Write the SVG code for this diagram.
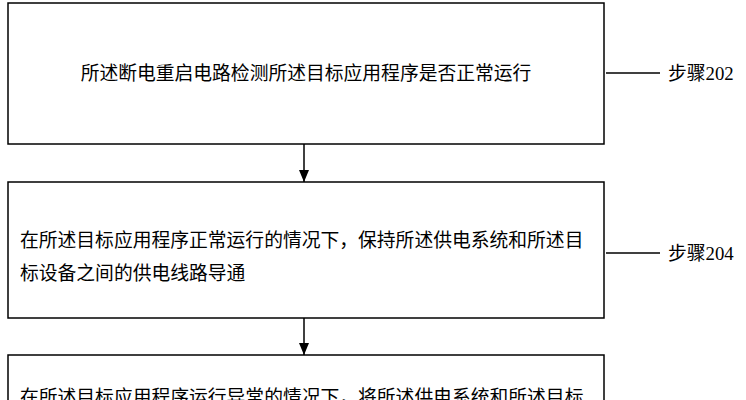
<svg xmlns="http://www.w3.org/2000/svg" width="746" height="400" viewBox="0 0 746 400">
<defs><marker id="ah" markerWidth="12" markerHeight="10" refX="12" refY="5" orient="auto" markerUnits="userSpaceOnUse" viewBox="0 0 12 10"><path d="M0,0 L12,5 L0,10 Z" fill="#000"/></marker></defs>
<style>
.box{fill:#fff;stroke:#000;stroke-width:1.5}
text{font-family:"Liberation Serif","Noto Sans CJK SC",serif;font-size:18.8px;fill:#000}
line{stroke:#000;stroke-width:1.5}
</style>
<rect width="746" height="400" fill="#fff"/>
<g id="n1"><rect class="box" x="8" y="3" width="596" height="141"/><text x="306" y="80" text-anchor="middle">所述断电重启电路检测所述目标应用程序是否正常运行</text></g>
<g id="n2"><rect class="box" x="8" y="182" width="596" height="136"/><text x="20" y="247">在所述目标应用程序正常运行的情况下，保持所述供电系统和所述目</text><text x="20" y="280">标设备之间的供电线路导通</text></g>
<g id="n3"><rect class="box" x="8" y="355" width="596" height="60"/><text x="20" y="404">在所述目标应用程序运行异常的情况下，将所述供电系统和所述目标</text></g>
<g id="l1"><text x="668" y="80">步骤202</text></g>
<g id="l2"><text x="668" y="260">步骤204</text></g>
<g id="connectors">
<line x1="304" y1="144" x2="304" y2="182" marker-end="url(#ah)"/>
<line x1="304" y1="318" x2="304" y2="355" marker-end="url(#ah)"/>
<line x1="606" y1="73" x2="660" y2="73"/>
<line x1="606" y1="253" x2="660" y2="253"/>
</g>
</svg>
